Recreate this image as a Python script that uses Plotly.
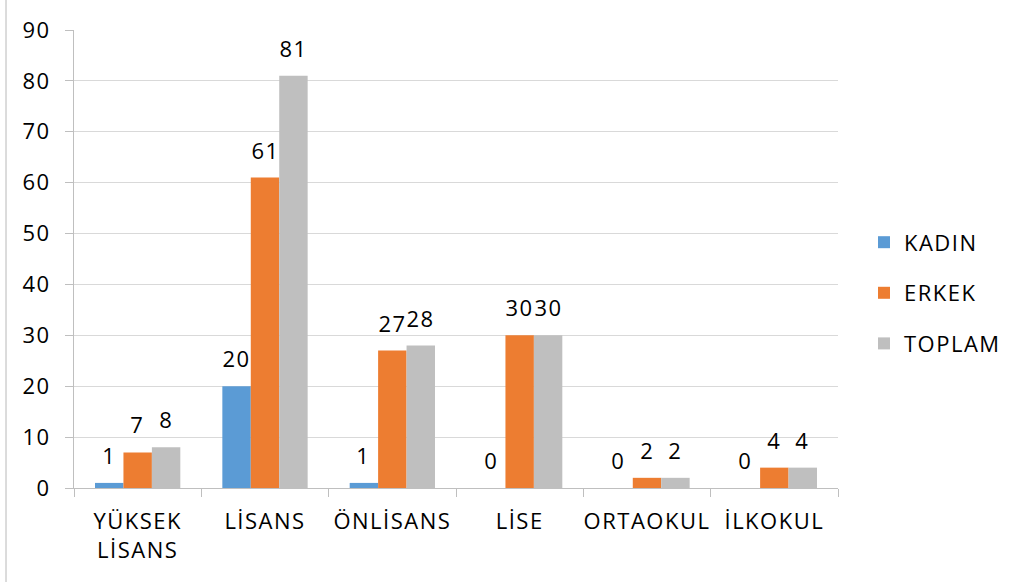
import plotly.graph_objects as go

categories = ["YÜKSEK<br>LİSANS", "LİSANS", "ÖNLİSANS", "LİSE", "ORTAOKUL", "İLKOKUL"]
kadin = [1, 20, 1, 0, 0, 0]
erkek = [7, 61, 27, 30, 2, 4]
toplam = [8, 81, 28, 30, 2, 4]

series = [("KADIN", kadin, "#5b9bd5"), ("ERKEK", erkek, "#ed7d31"), ("TOPLAM", toplam, "#bfbfbf")]

W, H = 1013, 582
ML, MR, MT, MB = 74, 175, 30, 94
BARGAP = 0.33
FS = 22
plot_w = W - ML - MR
bar_w = plot_w / len(categories) * (1 - BARGAP) / len(series)

fig = go.Figure()
for i, (name, vals, color) in enumerate(series):
    fig.add_trace(go.Bar(
        x=categories, y=vals, name=name, marker_color=color,
        marker_line_width=0, legendgroup=str(i),
    ))
    # value labels above each bar
    for cat, v in zip(categories, vals):
        fig.add_annotation(
            x=cat, y=v, text=str(v), showarrow=False,
            xanchor="center", yanchor="bottom",
            xshift=(i - 1) * bar_w, yshift=11,
            font=dict(size=FS, color="#000000"),
        )

fig.update_layout(
    width=W, height=H,
    margin=dict(l=ML, r=MR, t=MT, b=MB),
    paper_bgcolor="white", plot_bgcolor="white",
    font=dict(family="Open Sans, sans-serif", size=FS, color="#000000"),
    barmode="group", bargap=BARGAP, bargroupgap=0,
    showlegend=True,
    legend=dict(x=1.034, y=0.426, yanchor="middle", xanchor="left",
                font=dict(size=FS), tracegroupgap=19, itemwidth=30),
)
fig.update_xaxes(
    showline=True, linecolor="#bfbfbf", linewidth=1,
    ticks="outside", tickson="boundaries", ticklen=8, tickcolor="#bfbfbf",
    showgrid=False, tickfont=dict(size=FS), ticklabelstandoff=14,
)
fig.update_yaxes(
    range=[0, 90], dtick=10, showgrid=True, gridcolor="#d9d9d9",
    showline=True, linecolor="#bfbfbf", ticks="outside", ticklen=8,
    tickcolor="#bfbfbf", zeroline=False, tickfont=dict(size=FS),
    ticklabelstandoff=10,
)
fig.add_shape(type="line", xref="paper", yref="paper",
              x0=-0.089, x1=-0.089, y0=-0.3, y1=1.1,
              line=dict(color="#d0d0d0", width=1.5))

# page without body margin, slightly spaced letters like the original export
page_js = (
    "var s=document.createElement('style');"
    "s.textContent='body{margin:0} .main-svg text{letter-spacing:1.5px}';"
    "document.head.appendChild(s);"
    "document.querySelectorAll('.legend [clip-path]').forEach(function(e){e.removeAttribute('clip-path');});"
)

fig.write_html("out.html", post_script=page_js, config={"displayModeBar": False})
